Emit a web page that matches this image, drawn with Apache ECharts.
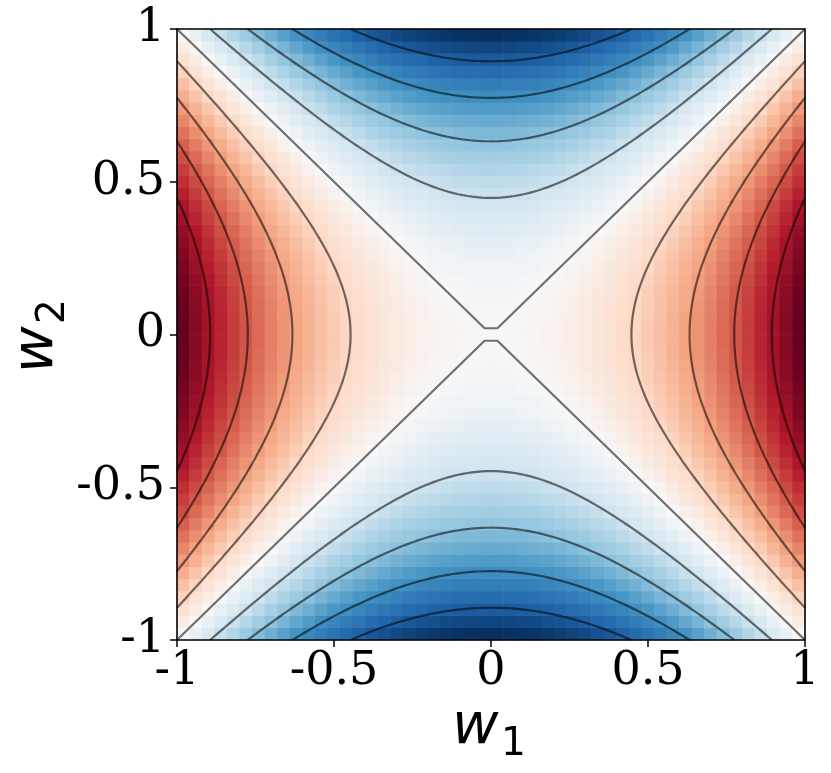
<!DOCTYPE html>
<html>
<head>
<meta charset="utf-8">
<script src="https://cdn.jsdelivr.net/npm/echarts@6/dist/echarts.min.js"></script>
<style>html,body{margin:0;padding:0;background:#fff}#c{width:831px;height:773px}</style>
</head>
<body>
<div id="c"></div>
<script>
// ---- data ----
var nGrid = 50;                                   // 50 x 50 cells
var axisRange = [-1, 1];
var tickInterval = 0.5;
var contourLevels = [-0.8, -0.6, -0.4, -0.2, 0, 0.2, 0.4, 0.6, 0.8];
var colorRange = [-1, 1];
var rdbuColors = ['#053061','#2166ac','#4393c3','#92c5de','#d1e5f0','#f7f7f7',
                  '#fddbc7','#f4a582','#d6604d','#b2182b','#67001f'];

// sample points of the surface (linspace -1..1)
var gridW = [];
for (var i = 0; i < nGrid; i++) gridW.push(-1 + 2 * i / (nGrid - 1));
var cellSize = 2 / nGrid;
// saddle surface value at each grid point: w1^2 - w2^2
var cells = [];
for (var i = 0; i < nGrid; i++) {
  for (var j = 0; j < nGrid; j++) {
    cells.push([-1 + cellSize * (i + 0.5), -1 + cellSize * (j + 0.5),
                gridW[i] * gridW[i] - gridW[j] * gridW[j]]);
  }
}

// contour branches
function contourBranches(c) {
  var out = [], n = 120, k, t, pts;
  if (c === 0) {
    var h = gridW[nGrid / 2];
    out.push([[-1, 1], [-h, h], [h, h], [1, 1]]);
    out.push([[-1, -1], [-h, -h], [h, -h], [1, -1]]);
    return out;
  }
  [-1, 1].forEach(function (s) {
    pts = [];
    if (c > 0) {
      var m = Math.sqrt(1 - c);
      for (k = 0; k <= n; k++) { t = -m + 2 * m * k / n; pts.push([s * Math.sqrt(c + t * t), t]); }
    } else {
      var m2 = Math.sqrt(1 + c);
      for (k = 0; k <= n; k++) { t = -m2 + 2 * m2 * k / n; pts.push([t, s * Math.sqrt(t * t - c)]); }
    }
    out.push(pts);
  });
  return out;
}

var series = [{
  type: 'custom',
  coordinateSystem: 'cartesian2d',
  data: cells,
  encode: { x: 0, y: 1 },
  z: 1,
  renderItem: function (params, api) {
    var x = api.value(0), y = api.value(1), hs = cellSize / 2, pad = 0.3;
    var p0 = api.coord([x - hs, y + hs]);
    var p1 = api.coord([x + hs, y - hs]);
    return { type: 'rect',
      shape: { x: p0[0] - pad, y: p0[1] - pad, width: p1[0] - p0[0] + 2 * pad, height: p1[1] - p0[1] + 2 * pad },
      style: { fill: api.visual('color') } };
  }
}];
contourLevels.forEach(function (c) {
  contourBranches(c).forEach(function (pts) {
    series.push({ type: 'line', data: pts, showSymbol: false, symbol: 'none', z: 3,
      silent: true, clip: true, animation: false,
      lineStyle: { color: 'rgba(0,0,0,0.55)', width: 2.2 } });
  });
});

var tickFont = { fontFamily: 'DejaVu Serif', fontSize: 46, color: '#000' };
var chart = echarts.init(document.getElementById('c'), null, { renderer: 'canvas' });
chart.setOption({
  animation: false,
  grid: { left: 177, top: 29, width: 628, height: 611, containLabel: false, outerBoundsMode: 'none' },
  xAxis: [{
    type: 'value', min: axisRange[0], max: axisRange[1], interval: tickInterval, z: 10,
    axisLine: { show: true, onZero: false, lineStyle: { color: '#000', width: 1.6 } },
    axisTick: { show: true, inside: false, length: 7, lineStyle: { color: '#000', width: 1.5 } },
    axisLabel: Object.assign({ margin: 9, showMinLabel: true, showMaxLabel: true, hideOverlap: false }, tickFont),
    splitLine: { show: false }
  }, {
    type: 'value', position: 'top', min: axisRange[0], max: axisRange[1], z: 10,
    axisLine: { show: true, onZero: false, lineStyle: { color: '#000', width: 1.6 } },
    axisTick: { show: false }, axisLabel: { show: false }, splitLine: { show: false }
  }],
  yAxis: [{
    type: 'value', min: axisRange[0], max: axisRange[1], interval: tickInterval, z: 10,
    axisLine: { show: true, onZero: false, lineStyle: { color: '#000', width: 1.6 } },
    axisTick: { show: true, inside: false, length: 7, lineStyle: { color: '#000', width: 1.5 } },
    axisLabel: Object.assign({ margin: 12, showMinLabel: true, showMaxLabel: true, hideOverlap: false }, tickFont),
    splitLine: { show: false }
  }, {
    type: 'value', position: 'right', min: axisRange[0], max: axisRange[1], z: 10,
    axisLine: { show: true, onZero: false, lineStyle: { color: '#000', width: 1.6 } },
    axisTick: { show: false }, axisLabel: { show: false }, splitLine: { show: false }
  }],
  visualMap: { type: 'continuous', show: false, min: colorRange[0], max: colorRange[1],
    dimension: 2, seriesIndex: 0, inRange: { color: rdbuColors } },
  graphic: [
    { type: 'group', x: 455, y: 748, children: [
      { type: 'text', x: -3, y: -20, style: { text: 'w', fontFamily: 'DejaVu Sans', fontStyle: 'italic',
        fontSize: 57, fill: '#000', align: 'left', verticalAlign: 'middle' } },
      { type: 'text', x: 46, y: -3.5, style: { text: '1', fontFamily: 'DejaVu Sans',
        fontSize: 39, fill: '#000', align: 'left', verticalAlign: 'middle' } }
    ]},
    { type: 'group', x: 57, y: 370, rotation: Math.PI / 2, children: [
      { type: 'text', x: -3, y: -20, style: { text: 'w', fontFamily: 'DejaVu Sans', fontStyle: 'italic',
        fontSize: 57, fill: '#000', align: 'left', verticalAlign: 'middle' } },
      { type: 'text', x: 46, y: -3.5, style: { text: '2', fontFamily: 'DejaVu Sans',
        fontSize: 39, fill: '#000', align: 'left', verticalAlign: 'middle' } }
    ]}
  ],
  series: series
});
</script>
</body>
</html>
